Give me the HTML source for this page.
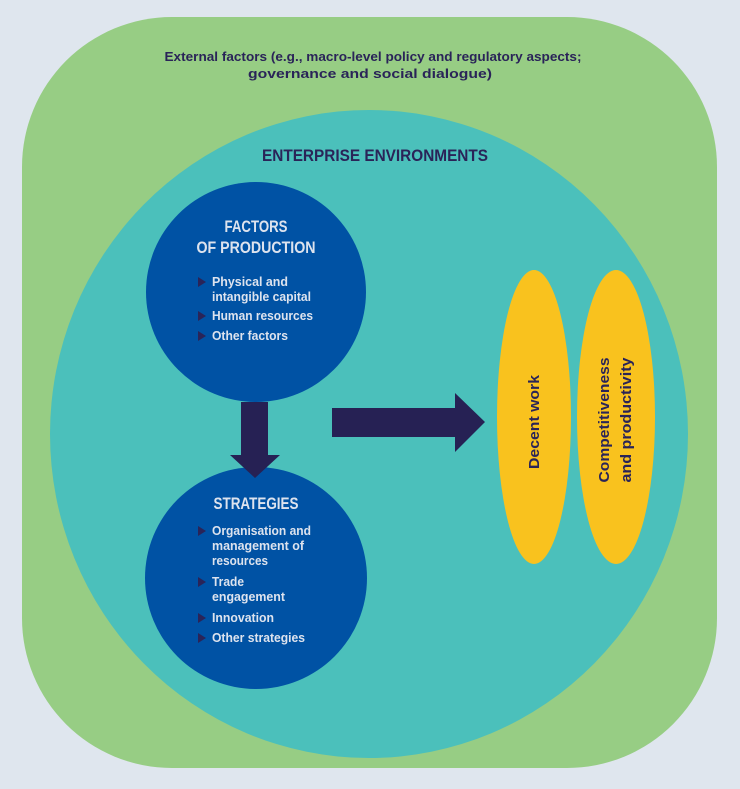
<!DOCTYPE html>
<html><head><style>html,body{margin:0;padding:0;background:#dfe6ee}svg{display:block}</style></head><body>
<svg width="740" height="789" viewBox="0 0 740 789" xmlns="http://www.w3.org/2000/svg" font-family="'Liberation Sans', sans-serif" font-weight="bold">
<rect width="740" height="789" fill="#dfe6ee"/>
<rect x="22" y="17" width="695" height="751" rx="150" fill="#97cd84"/>
<text x="373" y="61" text-anchor="middle" font-size="13" fill="#2a2458" textLength="417" lengthAdjust="spacingAndGlyphs">External factors (e.g., macro-level policy and regulatory aspects;</text>
<text x="370" y="78" text-anchor="middle" font-size="13" fill="#2a2458" textLength="244" lengthAdjust="spacingAndGlyphs">governance and social dialogue)</text>
<ellipse cx="369" cy="434" rx="319" ry="324" fill="#4bc0bb"/>
<text x="375" y="161" text-anchor="middle" font-size="17" fill="#2a2458" textLength="226" lengthAdjust="spacingAndGlyphs">ENTERPRISE ENVIRONMENTS</text>
<circle cx="256" cy="292" r="110" fill="#0052a4"/>
<circle cx="256" cy="578" r="111" fill="#0052a4"/>
<polygon points="241,402 268,402 268,455 280,455 255,478 230,455 241,455" fill="#262154"/>
<polygon points="332,408 455,408 455,393 485,422 455,452 455,437 332,437" fill="#262154"/>
<ellipse cx="534" cy="417" rx="37" ry="147" fill="#f9c21e"/>
<ellipse cx="616" cy="417" rx="39" ry="147" fill="#f9c21e"/>
<text transform="translate(539,422) rotate(-90)" text-anchor="middle" font-size="15" fill="#2a2458" textLength="94" lengthAdjust="spacingAndGlyphs">Decent work</text>
<text transform="translate(609,420) rotate(-90)" text-anchor="middle" font-size="15" fill="#2a2458" textLength="125" lengthAdjust="spacingAndGlyphs">Competitiveness</text>
<text transform="translate(631,420) rotate(-90)" text-anchor="middle" font-size="15" fill="#2a2458" textLength="125" lengthAdjust="spacingAndGlyphs">and productivity</text>
<g fill="#dde3ee">
<text x="256" y="232" text-anchor="middle" font-size="17" textLength="63" lengthAdjust="spacingAndGlyphs">FACTORS</text>
<text x="256" y="253" text-anchor="middle" font-size="17" textLength="119" lengthAdjust="spacingAndGlyphs">OF PRODUCTION</text>
<g font-size="12.5">
<text x="212" y="286" textLength="76" lengthAdjust="spacingAndGlyphs">Physical and</text>
<text x="212" y="301" textLength="99" lengthAdjust="spacingAndGlyphs">intangible capital</text>
<text x="212" y="320" textLength="101" lengthAdjust="spacingAndGlyphs">Human resources</text>
<text x="212" y="340" textLength="76" lengthAdjust="spacingAndGlyphs">Other factors</text>
</g>
<text x="256" y="509" text-anchor="middle" font-size="17" textLength="85" lengthAdjust="spacingAndGlyphs">STRATEGIES</text>
<g font-size="12.5">
<text x="212" y="535" textLength="99" lengthAdjust="spacingAndGlyphs">Organisation and</text>
<text x="212" y="550" textLength="92" lengthAdjust="spacingAndGlyphs">management of</text>
<text x="212" y="565" textLength="56" lengthAdjust="spacingAndGlyphs">resources</text>
<text x="212" y="586" textLength="32" lengthAdjust="spacingAndGlyphs">Trade</text>
<text x="212" y="601" textLength="73" lengthAdjust="spacingAndGlyphs">engagement</text>
<text x="212" y="622" textLength="62" lengthAdjust="spacingAndGlyphs">Innovation</text>
<text x="212" y="642" textLength="93" lengthAdjust="spacingAndGlyphs">Other strategies</text>
</g>
</g>
<g fill="#2a2458">
<polygon points="198,277 198,287 206,282"/>
<polygon points="198,311 198,321 206,316"/>
<polygon points="198,331 198,341 206,336"/>
<polygon points="198,526 198,536 206,531"/>
<polygon points="198,577 198,587 206,582"/>
<polygon points="198,613 198,623 206,618"/>
<polygon points="198,633 198,643 206,638"/>
</g>
</svg>
</body></html>
